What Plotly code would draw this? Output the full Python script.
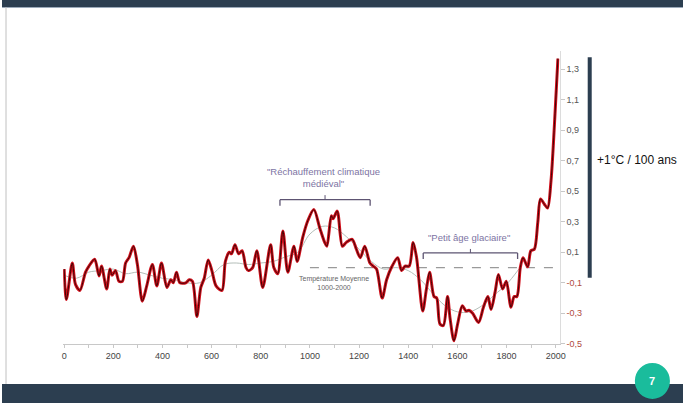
import plotly.graph_objects as go

# --- Data ---
years = [0, 9, 33, 46, 64, 87, 101, 124, 142, 152, 173, 186, 195, 209, 223, 237, 250, 264, 282, 298,
         318, 336, 359, 377, 396, 418, 434, 444, 457, 471, 495, 509, 522, 540, 556, 570, 586, 601, 618, 642,
         656, 672, 681, 695, 710, 724, 740, 750, 767, 784, 808, 840, 853, 869, 890, 910, 935, 948, 971, 992,
         1016, 1040, 1060, 1069, 1087, 1094, 1111, 1132, 1148, 1172, 1189, 1205, 1223, 1244, 1257, 1271, 1294,
         1312, 1333, 1357, 1373, 1387, 1404, 1420, 1434, 1459, 1474, 1487, 1505, 1516, 1529, 1543, 1560, 1570,
         1586, 1601, 1620, 1635, 1647, 1662, 1686, 1706, 1724, 1737, 1754, 1767, 1784, 1799, 1818, 1831, 1842,
         1856, 1867, 1886, 1899, 1913, 1927, 1938, 1954, 1967, 1981, 1995, 2009]
anomaly = [-0.01, -0.21, 0.03, -0.11, -0.15, -0.03, 0.01, 0.055, -0.055, 0.01, -0.14, -0.01, -0.05, -0.02,
           -0.09, -0.09, 0.03, 0.065, 0.14, 0.02, -0.22, -0.12, 0.02, -0.12, 0.03, -0.13, -0.08, -0.1, -0.03,
           -0.1, -0.1, -0.08, -0.09, -0.32, -0.13, -0.07, 0.05, -0.02, -0.12, -0.15, 0.04, 0.10, 0.09, 0.15,
           0.09, 0.11, 0.0, -0.02, 0.0, 0.11, -0.13, 0.15, 0.0, -0.04, 0.24, -0.03, 0.14, 0.04, 0.2, 0.31,
           0.38, 0.26, 0.165, 0.14, 0.34, 0.32, 0.37, 0.14, 0.165, 0.185, 0.12, 0.065, 0.14, 0.03, 0.01, -0.01,
           -0.2, -0.08, 0.005, 0.065, -0.02, 0.01, 0.01, 0.165, 0.065, -0.285, -0.14, -0.03, -0.19, -0.2, -0.37,
           -0.38, -0.19, -0.33, -0.48, -0.37, -0.25, -0.285, -0.28, -0.3, -0.36, -0.26, -0.19, -0.275, -0.155,
           -0.045, -0.14, -0.09, -0.26, -0.19, -0.19, 0.0, 0.065, 0.005, 0.11, 0.12, 0.295, 0.45, 0.415, 0.39,
           0.57, 0.94, 1.37]

smooth_years = [0, 50, 100, 150, 200, 250, 300, 350, 400, 450, 500, 550, 600, 650, 700, 750, 800, 850, 900,
                950, 1000, 1050, 1100, 1150, 1200, 1250, 1300, 1350, 1400, 1450, 1500, 1550, 1600, 1650, 1700,
                1750, 1800, 1850]
smooth_vals = [-0.05, -0.07, -0.03, -0.02, -0.01, -0.04, -0.03, -0.05, -0.07, -0.08, -0.1, -0.1, -0.05, 0.02,
               0.03, 0.02, 0.03, 0.04, 0.07, 0.1, 0.22, 0.27, 0.26, 0.2, 0.12, 0.04, -0.01, 0.0, -0.02, -0.08,
               -0.17, -0.25, -0.29, -0.29, -0.25, -0.18, -0.11, -0.01]

mean_years = [1000, 2016]
mean_vals = [0, 0]

x_ticks = [0, 200, 400, 600, 800, 1000, 1200, 1400, 1600, 1800, 2000]
y_ticks = [-0.5, -0.3, -0.1, 0.1, 0.3, 0.5, 0.7, 0.9, 1.1, 1.3]
y_labels = ["-0,5", "-0,3", "-0,1", "0,1", "0,3", "0,5", "0,7", "0,9", "1,1", "1,3"]

# The page is photographed slightly scaled down, so the figure is drawn a bit larger;
# all placement below is in fractions of the 683x403 reference frame.
W, H = 693, 409
RW, RH = 683, 403
def px(xp):
    return xp / RW
def py(yp):
    return 1 - yp / RH

FONT = "Liberation Sans"
PURPLE = "#7d74a3"
BRACKET = "#5d5472"

fig = go.Figure()
fig.add_trace(go.Scatter(x=smooth_years, y=smooth_vals, mode="lines",
                         line=dict(color="#b3bdb8", width=1, shape="spline", smoothing=1.0),
                         hoverinfo="skip"))
fig.add_trace(go.Scatter(x=mean_years, y=mean_vals, mode="lines",
                         line=dict(color="#9a9a9a", width=1.2, dash="dash"), hoverinfo="skip"))
fig.add_trace(go.Scatter(x=years, y=anomaly, mode="lines",
                         line=dict(color="#d0101c", width=3.0, shape="spline", smoothing=0.8)))
fig.add_trace(go.Scatter(x=years, y=anomaly, mode="lines",
                         line=dict(color="#3c0606", width=1.0, shape="spline", smoothing=0.8)))

tick_text = []
for v, lab in zip(y_ticks, y_labels):
    col = "#b04a40" if v < 0 else "#555555"
    tick_text.append(f'<span style="color:{col}">{lab}</span>')

fig.update_layout(
    width=W, height=H,
    margin=dict(l=0, r=0, t=0, b=0),
    paper_bgcolor="white", plot_bgcolor="white",
    showlegend=False,
    xaxis=dict(domain=[px(61), px(556)], range=[-4, 2016],
               tickvals=x_ticks, ticktext=[str(t) for t in x_ticks],
               showgrid=False, zeroline=False, showline=True, linecolor="#c8c8c8", linewidth=1,
               ticks="outside", ticklen=3, tickcolor="#c8c8c8",
               minor=dict(dtick=100, tick0=0, ticks="outside", ticklen=3, tickcolor="#c8c8c8"),
               tickfont=dict(family=FONT, size=9, color="#444444")),
    yaxis=dict(domain=[py(343), py(50.8)], range=[-0.5, 1.42], side="right",
               tickvals=y_ticks, ticktext=tick_text,
               showgrid=False, zeroline=False, showline=True, linecolor="#dcdcdc", linewidth=1,
               ticks="outside", ticklen=4, tickcolor="#c8c8c8",
               tickfont=dict(family=FONT, size=9, color="#555555")),
)

shapes = []
# top and bottom dark bands
shapes.append(dict(type="rect", xref="paper", yref="paper", x0=0, x1=1, y0=py(7), y1=1,
                   fillcolor="#2c3e50", line_width=0, layer="below"))
shapes.append(dict(type="line", xref="paper", yref="paper", x0=0, x1=1, y0=py(7.5), y1=py(7.5),
                   line=dict(color="#9aa8b8", width=1)))
shapes.append(dict(type="rect", xref="paper", yref="paper", x0=0, x1=1, y0=0, y1=py(383),
                   fillcolor="#2c3e50", line_width=0, layer="below"))
shapes.append(dict(type="line", xref="paper", yref="paper", x0=px(4), x1=px(4), y0=py(383), y1=py(7),
                   line=dict(color="#c0c0c0", width=1)))
# green page-number circle
shapes.append(dict(type="circle", xref="paper", yref="paper", x0=px(631), x1=px(666), y0=py(398), y1=py(362),
                   fillcolor="#1abc9c", line_width=0))
# dark vertical bar on the right
shapes.append(dict(type="rect", xref="paper", yref="paper", x0=px(584), x1=px(588), y0=py(277), y1=py(57),
                   fillcolor="#2c3e50", line_width=0))
# brackets (data coords)
def bracket(x0, x1, yb, ye, ytop):
    xm = (x0 + x1) / 2
    return [
        dict(type="line", x0=x0, x1=x1, y0=yb, y1=yb, line=dict(color=BRACKET, width=1.3)),
        dict(type="line", x0=x0, x1=x0, y0=yb, y1=ye, line=dict(color=BRACKET, width=1.3)),
        dict(type="line", x0=x1, x1=x1, y0=yb, y1=ye, line=dict(color=BRACKET, width=1.3)),
        dict(type="line", x0=xm, x1=xm, y0=yb, y1=ytop, line=dict(color=BRACKET, width=1)),
    ]
shapes += bracket(878, 1245, 0.445, 0.405, 0.475)
shapes += bracket(1461, 1845, 0.096, 0.057, 0.122)
fig.update_layout(shapes=shapes)

def note(x, y, text, size, color, xanchor="center"):
    return dict(xref="paper", yref="paper", x=px(x), y=py(y), text=text, showarrow=False,
                xanchor=xanchor, yanchor="middle", align="center",
                font=dict(family=FONT, size=size, color=color))

ann = [
    note(321, 177.5, '"Réchauffement climatique<br>médiéval"', 9.5, PURPLE),
    note(466, 237, '"Petit âge glaciaire"', 9.5, PURPLE),
    note(331, 282, "Température Moyenne<br>1000-2000", 7, "#666666"),
    note(591, 160, "+1°C / 100 ans", 12, "#111111", xanchor="left"),
    note(648.5, 380, "<b>7</b>", 11, "white"),
]
fig.update_layout(annotations=ann)

fig.write_html("out.html", config={"displayModeBar": False},
               post_script="document.body.style.margin='0px';document.body.style.overflow='hidden';")
